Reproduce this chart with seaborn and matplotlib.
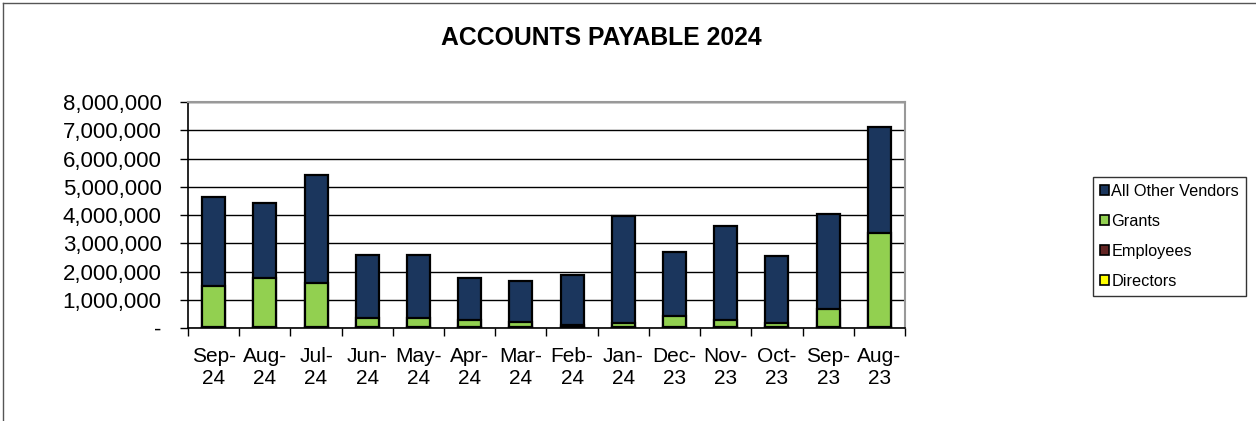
import numpy as np
import pandas as pd
import matplotlib
matplotlib.use("Agg")
import matplotlib.pyplot as plt
import seaborn as sns
from matplotlib.lines import Line2D
from matplotlib.patches import Patch
from matplotlib.ticker import FuncFormatter, FixedLocator

# Data
months = ['Sep-\n24', 'Aug-\n24', 'Jul-\n24', 'Jun-\n24', 'May-\n24', 'Apr-\n24', 'Mar-\n24',
          'Feb-\n24', 'Jan-\n24', 'Dec-\n23', 'Nov-\n23', 'Oct-\n23', 'Sep-\n23', 'Aug-\n23']
directors = [15000, 15000, 15000, 12000, 12000, 12000, 12000, 12000, 12000, 12000, 12000, 12000, 12000, 15000]
employees = [25000, 25000, 25000, 20000, 20000, 20000, 20000, 20000, 20000, 20000, 20000, 20000, 20000, 25000]
grants = [1450000, 1740000, 1560000, 310000, 310000, 250000, 170000, 90000, 140000, 410000, 250000, 140000, 630000, 3310000]
other_vendors = [3160000, 2630000, 3820000, 2240000, 2240000, 1480000, 1460000, 1740000, 3790000, 2260000, 3340000, 2390000, 3390000, 3750000]

series = ['Directors', 'Employees', 'Grants', 'All Other Vendors']
colors = {'Directors': '#FFFF00', 'Employees': '#632523',
          'Grants': '#92D050', 'All Other Vendors': '#1B365D'}

df = pd.DataFrame({'Month': months, 'Directors': directors, 'Employees': employees,
                   'Grants': grants, 'All Other Vendors': other_vendors})
# cumulative totals so the stacks can be drawn from the tallest layer down
cum = df[series].cumsum(axis=1)

plt.rcParams['font.family'] = ['Liberation Sans', 'DejaVu Sans']
fig = plt.figure(figsize=(12.56, 4.21), dpi=100)
ax = fig.add_axes([0.1497, 0.2209, 0.7205 - 0.1497, 0.7577 - 0.2209])

for name in reversed(series):
    sns.barplot(x=df['Month'], y=cum[name], color=colors[name], width=0.45,
                edgecolor='black', linewidth=1.6, saturation=1, ax=ax, zorder=3)

ax.set_ylim(0, 8000000)
ax.set_xlim(-0.5, len(months) - 0.5)
ax.set_yticks(np.arange(0, 8000001, 1000000))
ax.yaxis.set_major_formatter(FuncFormatter(lambda v, p: '-' if v == 0 else f'{int(v):,}'))
ax.grid(axis='y', color='black', linewidth=1.0, zorder=0)
ax.set_axisbelow(True)
ax.set_xlabel('')
ax.set_ylabel('')

ax.tick_params(axis='y', labelsize=16, length=6, width=1, pad=13)
ax.tick_params(axis='x', which='major', labelsize=15, length=0, pad=14)
ax.xaxis.set_minor_locator(FixedLocator(np.arange(-0.5, len(months), 1)))
ax.tick_params(axis='x', which='minor', length=6, width=1)
for lab in ax.get_xticklabels():
    lab.set_linespacing(1.15)

for side in ['left', 'bottom']:
    ax.spines[side].set_color('black')
    ax.spines[side].set_linewidth(1.2)
for side in ['top', 'right']:
    ax.spines[side].set_color('#999999')
    ax.spines[side].set_linewidth(1.5)

fig.text(0.479, 0.9097, 'ACCOUNTS PAYABLE 2024', ha='center', va='center',
         fontsize=17.8, fontweight='bold')

handles = [Patch(facecolor=colors[n], edgecolor='black', linewidth=1.2, label=n)
           for n in reversed(series)]
leg = fig.legend(handles=handles, loc='upper left', bbox_to_anchor=(0.870, 0.5803),
                 fontsize=11.7, frameon=True, fancybox=False, edgecolor='black',
                 handlelength=0.58, handleheight=0.58, handletextpad=0.12,
                 labelspacing=0.92, borderpad=0.45, borderaxespad=0)
leg.get_frame().set_linewidth(1.0)

# outer chart border (left and top edges visible in the reference)
fig.add_artist(Line2D([3 / 1256, 3 / 1256], [0, 1 - 3 / 421], color='#555555', linewidth=1.0))
fig.add_artist(Line2D([3 / 1256, 1], [1 - 3 / 421, 1 - 3 / 421], color='#555555', linewidth=1.0))

fig.savefig('out.png', dpi=100)
